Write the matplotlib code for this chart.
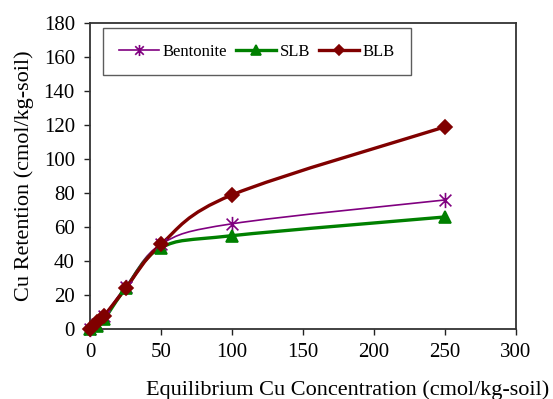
import numpy as np
import matplotlib
matplotlib.use("Agg")
import matplotlib.pyplot as plt
from matplotlib.path import Path
from matplotlib.patches import PathPatch
from matplotlib.lines import Line2D

# data
conc = [0, 5, 10, 25, 50, 100, 250]
bentonite = [0, 3, 8, 25, 50, 62, 76]
slb = [0, 2, 6, 24, 48, 55, 66]
blb = [0, 4, 8, 24, 50, 79, 119]

plt.rcParams["font.family"] = ["Liberation Serif", "DejaVu Serif"]


def smooth_path(x, y):
    # Excel-like smoothed line: cubic bezier with catmull-rom tangents
    p = np.column_stack([x, y]).astype(float)
    n = len(p)
    verts = [p[0]]
    codes = [Path.MOVETO]
    for i in range(n - 1):
        p0 = p[i - 1] if i > 0 else p[i]
        p3 = p[i + 2] if i + 2 < n else p[i + 1]
        c1 = p[i] + (p[i + 1] - p0) / 6
        c2 = p[i + 1] - (p3 - p[i]) / 6
        verts += [c1, c2, p[i + 1]]
        codes += [Path.CURVE4] * 3
    return Path(verts, codes)


star = Path(
    [(-1, -1), (1, 1), (-1, 1), (1, -1), (0, -1.3), (0, 1.3)],
    [Path.MOVETO, Path.LINETO, Path.MOVETO, Path.LINETO, Path.MOVETO, Path.LINETO],
)

series = [
    ("Bentonite", bentonite, "#800080", 1.2, star, 11, 8),
    ("SLB", slb, "#008000", 2.4, "^", 8, 6.5),
    ("BLB", blb, "#800000", 2.4, "D", 7, 5.5),
]

fig = plt.figure(figsize=(5.53, 3.99), dpi=100)
ax = fig.add_axes([0.163, 0.175, 0.77, 0.767])

handles = []
for name, vals, col, lw, mk, ms, lms in series:
    ax.add_patch(PathPatch(smooth_path(conc, vals), facecolor="none",
                           edgecolor=col, lw=lw, zorder=2))
    ax.plot(conc, vals, linestyle="none", marker=mk, ms=ms, color=col,
            mec=col, mew=1.2, zorder=3, clip_on=False)
    handles.append(Line2D([], [], color=col, lw=lw, marker=mk, ms=lms,
                          mec=col, mew=1.2))

ax.set_xlim(0, 300)
ax.set_ylim(0, 180)
ax.set_xticks(range(0, 301, 50))
ax.set_yticks(range(0, 181, 20))
ax.tick_params(direction="out", length=4, width=1, labelsize=15, color="#222222")
ax.tick_params(axis="x", pad=6)
ax.tick_params(axis="y", pad=7)
for s in ax.spines.values():
    s.set_color("#333333")
    s.set_linewidth(1.3)

ax.set_xlabel("Equilibrium Cu Concentration (cmol/kg-soil)", fontsize=16,
              labelpad=13, x=0.605)
ax.set_ylabel("Cu Retention (cmol/kg-soil)", fontsize=16, labelpad=7)

leg = ax.legend(handles, [s[0] for s in series], ncol=3, loc="upper left",
                bbox_to_anchor=(0.03, 0.985), fontsize=12, frameon=True,
                fancybox=False, edgecolor="#333333", handlelength=2.4,
                columnspacing=0.5, handletextpad=0.25, borderpad=0.95,
                borderaxespad=0)
leg.get_frame().set_linewidth(1.0)

fig.savefig("out.png", dpi=100)
